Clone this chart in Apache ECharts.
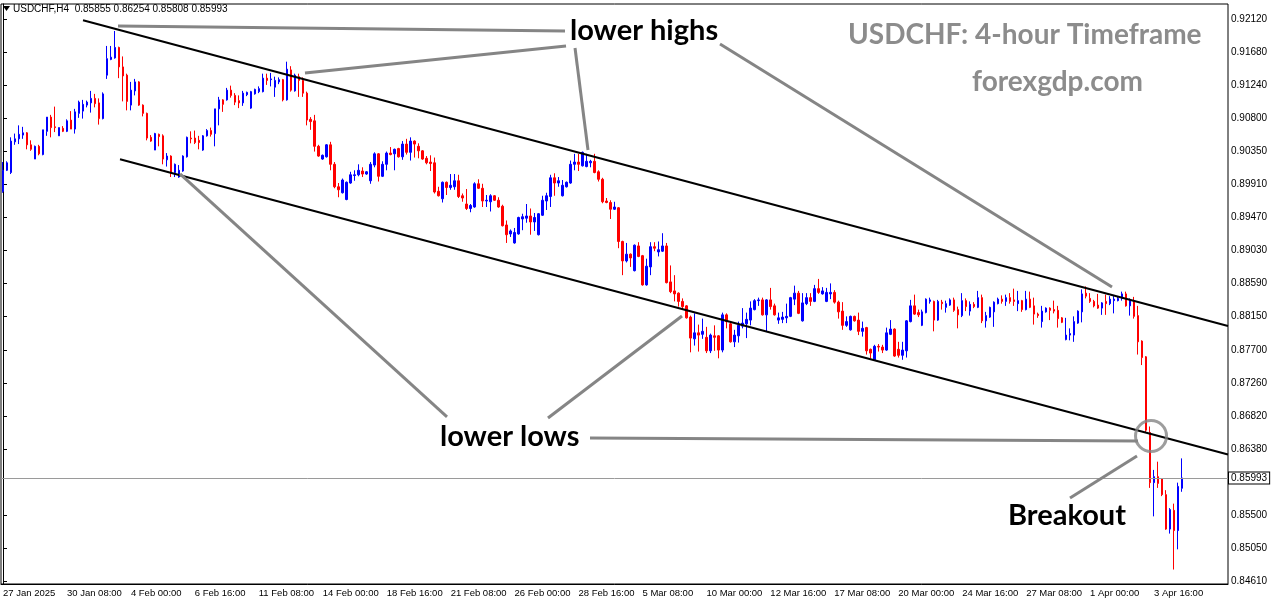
<!DOCTYPE html>
<html><head><meta charset="utf-8">
<script src="https://cdn.jsdelivr.net/npm/echarts@6/dist/echarts.min.js"></script>
<style>html,body{margin:0;padding:0;background:#fff}#c{width:1276px;height:604px}</style>
</head><body><div id="c"></div>
<script>
// ---- DATA (USDCHF H4) ----
const opens = [.8982,.9010,.9007,.9048,.9052,.9057,.9060,.9044,.9025,.9042,.9031,.9062,.9081,.9068,.9056,.9066,.9062,.9077,.9065,.9086,.9089,.9097,.9100,.9106,.9100,.9079,.9137,.9158,.9160,.9174,.9148,.9137,.9097,.9116,.9128,.9097,.9086,.9054,.9037,.9058,.9056,.9024,.9029,.9007,.9001,.9009,.9028,.9053,.9053,.9050,.9037,.9056,.9063,.9059,.9092,.9104,.9104,.9117,.9110,.9103,.9100,.9111,.9093,.9112,.9115,.9115,.9133,.9131,.9121,.9128,.9131,.9104,.9144,.9116,.9135,.9130,.9113,.9078,.9076,.9042,.9025,.9028,.9044,.9018,.8988,.8980,.8971,.8993,.9003,.9004,.9009,.9005,.8996,.9017,.9032,.9002,.9018,.9033,.9032,.9039,.9028,.9045,.9034,.9049,.9042,.9036,.9026,.9021,.9020,.8982,.8972,.8994,.8987,.8988,.8996,.8976,.8965,.8959,.8961,.8992,.8986,.8969,.8968,.8976,.8970,.8962,.8937,.8925,.8913,.8925,.8945,.8946,.8949,.8941,.8924,.8950,.8969,.8975,.9000,.8993,.8976,.8988,.8993,.9018,.9021,.9016,.9015,.9020,.9022,.9008,.8998,.8969,.8967,.8958,.8960,.8915,.8889,.8898,.8876,.8909,.8896,.8857,.8881,.8908,.8901,.8902,.8909,.8861,.8849,.8846,.8835,.8829,.8814,.8785,.8793,.8791,.8787,.8769,.8789,.8789,.8770,.8817,.8805,.8781,.8789,.8802,.8805,.8810,.8824,.8836,.8837,.8817,.8837,.8829,.8810,.8811,.8813,.8815,.8838,.8846,.8809,.8832,.8840,.8835,.8852,.8845,.8835,.8845,.8847,.8834,.8822,.8803,.8797,.8815,.8810,.8795,.8800,.8771,.8757,.8775,.8774,.8770,.8791,.8798,.8771,.8763,.8769,.8808,.8829,.8820,.8803,.8820,.8835,.8835,.8810,.8834,.8827,.8830,.8837,.8824,.8816,.8836,.8822,.8831,.8827,.8840,.8809,.8814,.8821,.8832,.8838,.8835,.8840,.8837,.8832,.8836,.8824,.8838,.8829,.8818,.8808,.8821,.8826,.8824,.8823,.8813,.8784,.8790,.8790,.8806,.8821,.8846,.8839,.8835,.8830,.8826,.8835,.8832,.8836,.8836,.8839,.8845,.8829,.8836,.8816,.8782,.8761,.8660,.8593,.8601,.8598,.8577,.8531,.8556,.8529,.85855];
const highs = [.9021,.9022,.9054,.9059,.9070,.9068,.9061,.9050,.9043,.9044,.9064,.9081,.9084,.9095,.9067,.9069,.9078,.9089,.9092,.9103,.9104,.9103,.9116,.9112,.9106,.9114,.9176,.9176,.9196,.9175,.9162,.9139,.9128,.9132,.9129,.9098,.9087,.9057,.9060,.9059,.9058,.9033,.9030,.9019,.9017,.9030,.9055,.9062,.9063,.9056,.9057,.9065,.9067,.9092,.9108,.9105,.9120,.9123,.9113,.9110,.9116,.9115,.9116,.9119,.9122,.9139,.9139,.9140,.9135,.9134,.9132,.9155,.9149,.9139,.9139,.9134,.9115,.9081,.9084,.9044,.9031,.9045,.9048,.9021,.8993,.8999,.8995,.9008,.9010,.9018,.9014,.9009,.9021,.9034,.9033,.9022,.9035,.9041,.9039,.9040,.9049,.9052,.9054,.9050,.9046,.9037,.9029,.9030,.9027,.8988,.8995,.8995,.9005,.9005,.9004,.8979,.8985,.8965,.8994,.8998,.8992,.8977,.8978,.8977,.8974,.8964,.8943,.8931,.8933,.8948,.8952,.8965,.8959,.8953,.8953,.8976,.8980,.9004,.9006,.9001,.8997,.8995,.9023,.9032,.9032,.9035,.9032,.9024,.9032,.9010,.9000,.8973,.8970,.8968,.8961,.8916,.8913,.8899,.8911,.8914,.8897,.8892,.8914,.8914,.8915,.8926,.8913,.8883,.8870,.8847,.8839,.8830,.8816,.8819,.8804,.8812,.8801,.8792,.8803,.8790,.8820,.8819,.8808,.8797,.8808,.8826,.8820,.8835,.8838,.8840,.8840,.8838,.8853,.8832,.8820,.8821,.8832,.8841,.8856,.8849,.8846,.8846,.8846,.8857,.8865,.8854,.8853,.8859,.8850,.8836,.8834,.8815,.8816,.8816,.8820,.8808,.8801,.8772,.8777,.8778,.8777,.8800,.8810,.8799,.8781,.8781,.8810,.8837,.8844,.8824,.8824,.8839,.8840,.8836,.8837,.8837,.8836,.8839,.8840,.8828,.8846,.8839,.8835,.8834,.8849,.8844,.8821,.8828,.8835,.8840,.8843,.8844,.8846,.8852,.8849,.8837,.8849,.8848,.8840,.8820,.8829,.8827,.8827,.8836,.8829,.8814,.8813,.8799,.8815,.8823,.8851,.8855,.8846,.8837,.8845,.8834,.8844,.8842,.8842,.8842,.8848,.8848,.8839,.8841,.8829,.8783,.8762,.8668,.8610,.8621,.8599,.8583,.8559,.8565,.8593,.86254];
const lows = [.8980,.9009,.9005,.9044,.9045,.9052,.9038,.9036,.9025,.9030,.9030,.9056,.9054,.9061,.9056,.9061,.9061,.9065,.9059,.9080,.9079,.9094,.9087,.9094,.9071,.9078,.9132,.9157,.9159,.9133,.9102,.9090,.9090,.9110,.9096,.9082,.9050,.9048,.9037,.9042,.9018,.9015,.9001,.9001,.9000,.9008,.9027,.9046,.9045,.9038,.9036,.9055,.9055,.9042,.9070,.9088,.9103,.9107,.9097,.9093,.9096,.9109,.9092,.9111,.9113,.9114,.9124,.9122,.9108,.9125,.9102,.9103,.9115,.9115,.9108,.9108,.9070,.9064,.9035,.9028,.9024,.9027,.9010,.8986,.8974,.8979,.8970,.8992,.8996,.9002,.9001,.9004,.8992,.9014,.8995,.9001,.9010,.9030,.9010,.9027,.9024,.9031,.9023,.9027,.9026,.9024,.9018,.9009,.8979,.8975,.8967,.8977,.8984,.8984,.8973,.8968,.8957,.8954,.8960,.8985,.8961,.8961,.8955,.8969,.8960,.8935,.8913,.8921,.8912,.8924,.8930,.8940,.8924,.8929,.8923,.8949,.8957,.8961,.8976,.8988,.8975,.8987,.8992,.9010,.9009,.9015,.9014,.9014,.9006,.8995,.8966,.8966,.8945,.8957,.8906,.8870,.8887,.8881,.8875,.8894,.8856,.8856,.8870,.8902,.8895,.8901,.8859,.8846,.8835,.8828,.8824,.8812,.8767,.8776,.8768,.8785,.8766,.8766,.8769,.8759,.8767,.8799,.8780,.8774,.8780,.8799,.8786,.8803,.8823,.8829,.8816,.8795,.8824,.8816,.8805,.8806,.8806,.8814,.8830,.8818,.8808,.8830,.8829,.8834,.8845,.8844,.8834,.8838,.8832,.8812,.8797,.8801,.8796,.8808,.8790,.8788,.8764,.8759,.8756,.8768,.8766,.8769,.8790,.8761,.8760,.8757,.8760,.8807,.8817,.8814,.8802,.8819,.8832,.8795,.8809,.8824,.8820,.8829,.8821,.8799,.8814,.8822,.8816,.8826,.8826,.8806,.8800,.8813,.8801,.8831,.8832,.8829,.8832,.8829,.8822,.8821,.8823,.8826,.8804,.8813,.8800,.8820,.8810,.8819,.8800,.8806,.8783,.8783,.8781,.8805,.8807,.8839,.8833,.8827,.8825,.8817,.8817,.8830,.8819,.8835,.8836,.8828,.8816,.8812,.8764,.8750,.8660,.8586,.8548,.8586,.8575,.8530,.8525,.8477,.8504,.85808];
const closes = [.9010,.9020,.9049,.9052,.9058,.9060,.9044,.9038,.9042,.9032,.9064,.9081,.9067,.9067,.9067,.9062,.9076,.9065,.9088,.9101,.9098,.9101,.9106,.9099,.9079,.9112,.9159,.9161,.9174,.9148,.9136,.9102,.9117,.9128,.9097,.9086,.9053,.9049,.9059,.9055,.9025,.9029,.9007,.9018,.9010,.9029,.9054,.9052,.9047,.9047,.9056,.9063,.9058,.9092,.9104,.9098,.9117,.9110,.9101,.9100,.9113,.9114,.9115,.9118,.9119,.9133,.9130,.9132,.9130,.9131,.9104,.9145,.9117,.9137,.9130,.9113,.9077,.9075,.9042,.9029,.9030,.9044,.9018,.8988,.8984,.8997,.8994,.9004,.9004,.9010,.9005,.9008,.9018,.9032,.9002,.9018,.9033,.9031,.9038,.9028,.9045,.9034,.9049,.9045,.9036,.9025,.9020,.9019,.8981,.8976,.8994,.8987,.8990,.8996,.8975,.8973,.8959,.8963,.8992,.8986,.8969,.8970,.8976,.8970,.8961,.8936,.8924,.8929,.8927,.8947,.8948,.8949,.8941,.8947,.8952,.8970,.8976,.9000,.8993,.8996,.8990,.8994,.9018,.9021,.9018,.9034,.9022,.9022,.9007,.8998,.8968,.8967,.8958,.8961,.8915,.8889,.8898,.8893,.8910,.8895,.8857,.8882,.8908,.8906,.8904,.8909,.8860,.8848,.8845,.8835,.8828,.8813,.8786,.8793,.8790,.8795,.8769,.8790,.8787,.8770,.8817,.8808,.8781,.8790,.8803,.8806,.8811,.8826,.8836,.8837,.8817,.8837,.8828,.8817,.8813,.8814,.8815,.8840,.8846,.8819,.8833,.8840,.8835,.8852,.8847,.8849,.8847,.8847,.8834,.8821,.8803,.8808,.8815,.8809,.8795,.8799,.8769,.8766,.8775,.8774,.8770,.8793,.8798,.8762,.8763,.8770,.8809,.8829,.8818,.8817,.8821,.8838,.8837,.8810,.8835,.8832,.8832,.8837,.8823,.8817,.8836,.8828,.8831,.8828,.8840,.8809,.8816,.8827,.8834,.8838,.8835,.8840,.8835,.8835,.8836,.8824,.8838,.8827,.8818,.8816,.8822,.8826,.8823,.8822,.8812,.8807,.8790,.8792,.8808,.8822,.8845,.8842,.8835,.8829,.8826,.8833,.8832,.8838,.8838,.8839,.8845,.8829,.8836,.8815,.8781,.8760,.8663,.8593,.8601,.8592,.8577,.8531,.8557,.8529,.8588,.85993];
const currentPrice = 0.85993;
const yTicks = [0.9212,0.9168,0.9124,0.9080,0.9035,0.8991,0.8947,0.8903,0.8859,0.8815,0.8770,0.8726,0.8682,0.8638,0.8550,0.8505,0.8461];
const xTickBars = [0,16,32,48,64,80,96,112,128,144,160,176,192,208,224,240,256,272,288];
const xTickText = ["27 Jan 2025","30 Jan 08:00","4 Feb 00:00","6 Feb 16:00","11 Feb 08:00","14 Feb 00:00","18 Feb 16:00","21 Feb 08:00","26 Feb 00:00","28 Feb 16:00","5 Mar 08:00","10 Mar 00:00","12 Mar 16:00","17 Mar 08:00","20 Mar 00:00","24 Mar 16:00","27 Mar 08:00","1 Apr 00:00","3 Apr 16:00"];
// channel lines: [barPosition, price]
const upperChannel = [[20.02, 0.92103],[306.5, 0.88022]];
const lowerChannel = [[29.27, 0.90247],[306.5, 0.86306]];
// grey annotation pointers: [barPosition, price] pairs
const pointers = [
  [[28.77,0.92027],[140.62,0.91960]],
  [[75.56,0.91399],[140.87,0.91760]],
  [[143.12,0.91733],[146.37,0.90371]],
  [[179.40,0.91787],[277.48,0.88542]],
  [[44.29,0.90051],[111.09,0.86807]],
  [[136.36,0.86794],[169.89,0.88155]],
  [[146.87,0.86526],[283.98,0.86486]],
  [[266.97,0.85725],[283.73,0.86286]]
];
const breakoutCircle = [287.24, 0.86553];

// ---- BUILD ----
const SLOTS = 307; // 296 bars + right shift
const MON = ["Jan","Feb","Mar","Apr","May","Jun","Jul","Aug","Sep","Oct","Nov","Dec"];
const categories = [];
let t = Date.UTC(2025,0,27,16);
while (categories.length < SLOTS) {
  const d = new Date(t); const wd = d.getUTCDay();
  if (wd !== 0 && wd !== 6) {
    categories.push(d.getUTCDate()+" "+MON[d.getUTCMonth()]+" "+String(d.getUTCHours()).padStart(2,"0")+":00");
  }
  t += 4*3600e3;
}
const tickMap = {}; xTickBars.forEach((b,i)=>tickMap[b]=xTickText[i]);
const isTick = (idx)=> tickMap[idx] !== undefined;
const candles = opens.map((o,i)=>[o, closes[i], lows[i], highs[i]]);
const last = opens.length-1;
const header = "USDCHF,H4  "+opens[last].toFixed(5)+" "+highs[last].toFixed(5)+" "+lows[last].toFixed(5)+" "+closes[last].toFixed(5);

const lineSeries = (data, color, width, z) => ({
  type:'line', xAxisIndex:1, yAxisIndex:0, data, symbol:'none', silent:true,
  lineStyle:{color, width}, z, animation:false
});
const series = [{
  type:'candlestick', xAxisIndex:0, yAxisIndex:0, data:candles, barWidth:2, z:2,
  itemStyle:{color:'#0000ff', color0:'#ff0000', borderColor:'#0000ff', borderColor0:'#ff0000', borderWidth:1},
  markLine:{silent:true, symbol:['none','none'], animation:false, precision:5,
    lineStyle:{color:'#9a9a9a', width:1, type:'solid'},
    label:{show:true, position:'end', distance:1, formatter:()=>currentPrice.toFixed(5),
      backgroundColor:'#fff', borderColor:'#000', borderWidth:1, padding:[1,2,0,2],
      fontSize:10, fontFamily:'Liberation Sans', color:'#000'},
    data:[{yAxis:currentPrice}]}
}];
series.push(lineSeries(upperChannel,'#000',2,5));
series.push(lineSeries(lowerChannel,'#000',2,5));
pointers.forEach(p=>series.push(lineSeries(p,'#858585',3,6)));
series.push({type:'scatter', xAxisIndex:1, yAxisIndex:0, data:[breakoutCircle], symbol:'circle', symbolSize:31, silent:true, z:6,
  itemStyle:{color:'rgba(0,0,0,0)', borderColor:'#858585', borderWidth:3}});

const chart = echarts.init(document.getElementById('c'), null, {renderer:'canvas'});
const bigFont = 'bold 29px Lato';
const greyFont = 'bold 28px Lato';
chart.setOption({
  animation:false,
  backgroundColor:'#fff',
  grid:{left:1, right:48, top:4, bottom:20, show:true, borderColor:'#000', borderWidth:1, backgroundColor:'#fff'},
  xAxis:[{
    type:'category', data:categories, boundaryGap:true,
    axisLine:{lineStyle:{color:'#000', width:1}},
    axisTick:{alignWithLabel:true, interval:(i)=>isTick(i), length:4, lineStyle:{color:'#000'}},
    axisLabel:{interval:(i)=>isTick(i), formatter:(v,i)=>tickMap[i]||'', align:'left', margin:4,
      fontSize:9.5, fontFamily:'Liberation Sans', color:'#000'},
    splitLine:{show:false}
  },{
    type:'value', min:-0.5, max:SLOTS-0.5, show:false
  }],
  yAxis:[{
    type:'value', position:'right', min:0.84577, max:0.92320, scale:true,
    axisLine:{show:true, lineStyle:{color:'#000'}},
    axisTick:{show:true, customValues:yTicks, length:4, lineStyle:{color:'#000'}},
    axisLabel:{customValues:yTicks, formatter:(v)=>v.toFixed(5), margin:3, fontSize:10, fontFamily:'Liberation Sans', color:'#000'},
    splitLine:{show:false}
  }],
  series,
  graphic:[
    {type:'polygon', shape:{points:[[3,6],[10,6],[6.5,11]]}, style:{fill:'#000'}, z:20},
    {type:'text', x:13, y:9, style:{text:header, font:'10px Liberation Sans', fill:'#000', verticalAlign:'middle'}, z:20},
    {type:'text', x:570, y:31, style:{text:'lower highs', font:bigFont, fill:'#000', verticalAlign:'middle'}, z:20},
    {type:'text', x:848, y:35, style:{text:'USDCHF: 4-hour Timeframe', font:greyFont, fill:'#8c8c8c', verticalAlign:'middle'}, z:20},
    {type:'text', x:972, y:82, style:{text:'forexgdp.com', font:greyFont, fill:'#8c8c8c', verticalAlign:'middle'}, z:20},
    {type:'text', x:440, y:437, style:{text:'lower lows', font:bigFont, fill:'#000', verticalAlign:'middle'}, z:20},
    {type:'text', x:1008, y:516, style:{text:'Breakout', font:bigFont, fill:'#000', verticalAlign:'middle'}, z:20}
  ]
});
</script>
</body></html>
